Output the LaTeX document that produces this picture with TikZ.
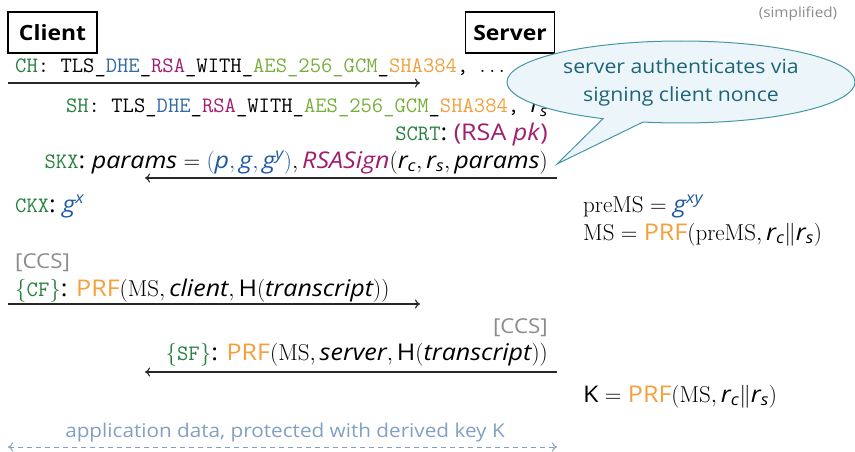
\RequirePackage{fix-cm}
\documentclass[tikz,border=0pt]{standalone}
\usepackage{amsmath}
\usepackage{fontspec}
\setsansfont{Open Sans}[FakeStretch=1.09]
\usetikzlibrary{shapes.callouts,arrows.meta}
\definecolor{msg}{RGB}{38,128,62}
\definecolor{dhe}{RGB}{50,105,165}
\definecolor{rsa}{RGB}{160,30,110}
\definecolor{aes}{RGB}{120,175,60}
\definecolor{sha}{RGB}{240,160,60}
\definecolor{prf}{RGB}{245,160,60}
\definecolor{gb}{RGB}{30,90,160}
\definecolor{cofill}{RGB}{236,246,250}
\definecolor{codraw}{RGB}{70,150,165}
\definecolor{cotext}{RGB}{30,100,120}
\definecolor{app}{RGB}{130,160,195}
\definecolor{ccs}{RGB}{140,140,140}
\definecolor{arr}{RGB}{40,40,40}
\newcommand{\mv}[1]{\textsf{\itshape #1}}
\newcommand{\PRF}{\textcolor{prf}{\textsf{PRF}}}
\newcommand{\ttm}{\fontsize{22}{26}\selectfont\ttfamily}
\begin{document}
\begin{tikzpicture}[x=1pt,y=-1pt,
  font=\fontsize{23}{27}\selectfont\sffamily,
  party/.style={draw,line width=1.4pt,minimum width=89pt,minimum height=41pt,inner sep=0pt,font=\fontsize{21}{26}\selectfont\sffamily\bfseries},
  msgarrow/.style={arr,line width=1.1pt,-{To[length=5pt,width=9pt]}},
  txt/.style={inner sep=0pt},
  ccstxt/.style={txt,ccs,font=\fontsize{20.5}{24}\selectfont\sffamily},
]
\useasboundingbox (0,0) rectangle (855,452);

\node[party] (client) at (52.5,32.5) {Client};
\node[party] (server) at (510,32.5) {Server};
\node[txt,ccs,font=\fontsize{14}{16}\selectfont\sffamily] (simp) at (798,14) {(simplified)};

% CH
\node[txt,anchor=base west] (ch) at (15,73) {\ttm\textcolor{msg}{CH}: TLS\_\textcolor{dhe}{DHE}\_\textcolor{rsa}{RSA}\_WITH\_\textcolor{aes}{AES\_256\_GCM}\_\textcolor{sha}{SHA384}, $\ldots$ ,};
\coordinate (c1) at (8,83);
\coordinate (s1) at (420,83);
\draw[msgarrow] (c1) -- (s1);

% SH
\node[txt,anchor=base east] (sh) at (548,113) {\ttm\textcolor{msg}{SH}: TLS\_\textcolor{dhe}{DHE}\_\textcolor{rsa}{RSA}\_WITH\_\textcolor{aes}{AES\_256\_GCM}\_\textcolor{sha}{SHA384}, $\mv{r}_{\mv{s}}$};
% SCRT
\node[txt,anchor=base east] (scrt) at (548,140) {\textcolor{msg}{\ttm SCRT}: \textcolor{rsa}{(RSA \textit{pk})}};
% SKX
\node[txt,anchor=base east] (skx) at (548,168) {\textcolor{msg}{\ttm SKX}: $\mv{params} = \textcolor{gb}{(\mv{p}, \mv{g}, \mv{g}^{\mv{y}})}, \textcolor{rsa}{\mv{RSASign}}(\mv{r}_{\mv{c}}, \mv{r}_{\mv{s}}, \mv{params})$};
\coordinate (s2) at (557,178);
\coordinate (c2) at (145,178);
\draw[msgarrow] (s2) -- (c2);

% CKX
\node[txt,anchor=base west] (ckx) at (15,212) {\textcolor{msg}{\ttm CKX}: $\textcolor{gb}{\mv{g}^{\mv{x}}}$};

% server side computations
\node[txt,anchor=base west] (prems) at (583,212) {$\mathrm{preMS} = \textcolor{gb}{\mv{g}^{\mv{xy}}}$};
\node[txt,anchor=base west] (ms) at (583,240) {$\mathrm{MS} = \PRF(\mathrm{preMS}, \mv{r}_{\mv{c}}\|\mv{r}_{\mv{s}})$};

% CF
\node[ccstxt,anchor=base west] (ccs1) at (15,268) {[CCS]};
\node[txt,anchor=base west] (cf) at (15,296) {$\textcolor{msg}{\{\mbox{\ttm CF}\}}$: $\PRF(\mathrm{MS}, \mv{client}, \textsf{H}(\mv{transcript}))$};
\coordinate (c3) at (8,304);
\coordinate (s3) at (420,304);
\draw[msgarrow] (c3) -- (s3);

% SF
\node[ccstxt,anchor=base east] (ccs2) at (548,333) {[CCS]};
\node[txt,anchor=base east] (sf) at (548,360) {$\textcolor{msg}{\{\mbox{\ttm SF}\}}$: $\PRF(\mathrm{MS}, \mv{server}, \textsf{H}(\mv{transcript}))$};
\coordinate (s4) at (557,372);
\coordinate (c4) at (145,372);
\draw[msgarrow] (s4) -- (c4);

% K
\node[txt,anchor=base west] (k) at (583,402) {$\textsf{K} = \PRF(\mathrm{MS}, \mv{r}_{\mv{c}}\|\mv{r}_{\mv{s}})$};

% application data
\node[txt,anchor=base,app,font=\fontsize{19}{22}\selectfont\sffamily] (appd) at (285,437) {application data, protected with derived key K};
\coordinate (c5) at (8,447);
\coordinate (s5) at (557,447);
\draw[app,line width=1pt,dashed,dash pattern=on 5pt off 4pt,{To[length=5pt,width=9pt]}-{To[length=5pt,width=9pt]}] (c5) -- (s5);

% callout
\coordinate (tip) at (557,164);
\node[ellipse callout,draw=codraw,fill=cofill,line width=1pt,minimum width=348pt,minimum height=82pt,inner sep=0pt,
  callout absolute pointer={(tip)},callout pointer arc=14,text=cotext,align=center,font=\fontsize{19.5}{28}\selectfont\sffamily]
  (note) at (681,82) {server authenticates via\\signing client nonce};
\end{tikzpicture}
\end{document}
